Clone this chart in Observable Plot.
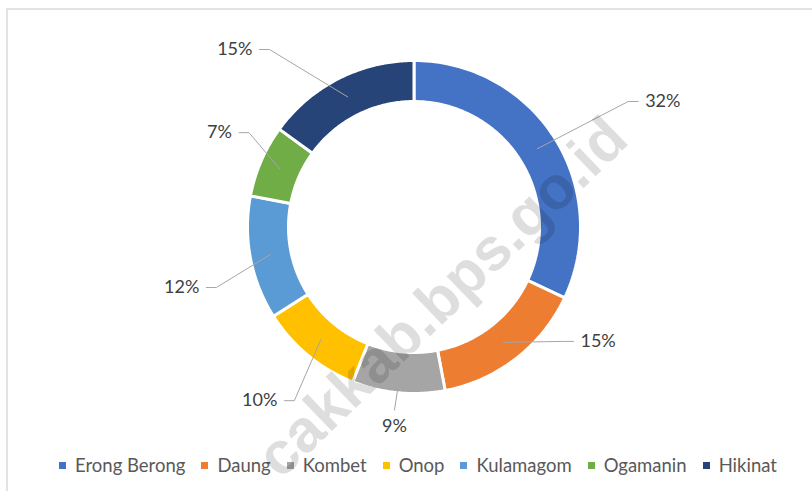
<!DOCTYPE html>
<html>
<head>
<meta charset="utf-8">
<script src="https://cdn.jsdelivr.net/npm/d3@7"></script>
<script src="https://cdn.jsdelivr.net/npm/@observablehq/plot@0.6"></script>
<style>
  html, body { margin: 0; padding: 0; background: #fff; }
  body { width: 812px; height: 491px; position: relative; overflow: hidden; font-family: Lato, "Open Sans", sans-serif; }
  #frame { position: absolute; left: 6px; top: 8px; width: 820px; height: 500px;
           border-left: 2px solid #e3e3e3; border-top: 2px solid #e3e3e3; pointer-events: none; }
  #chart svg { display: block; }
  #legend { display: flex; justify-content: center; align-items: center; height: 40px;
            padding-left: 24px; box-sizing: border-box; width: 812px;
            font-size: 18.5px; color: #595959; white-space: nowrap; }
  #legend .item { display: flex; align-items: center; margin: 0 8px; }
  #legend .sw { width: 7px; height: 7px; margin-right: 9px; }
  #watermark { position: absolute; left: 442px; top: 297px; width: 0; height: 0; pointer-events: none; }
  #watermark span { position: absolute; left: 0; top: 0; transform: translate(-50%, -50%) rotate(-44deg);
                    font-family: "Liberation Sans", Arial, sans-serif; font-weight: bold; font-size: 60px;
                    line-height: 0.9; color: rgba(0,0,0,0.13); white-space: nowrap; }
</style>
</head>
<body>
<div id="frame"></div>
<div id="chart"></div>
<div id="legend"></div>
<div id="watermark"><span>cakkab.bps.go.id</span></div>
<script>
// ---- data ----
const categories = ["Erong Berong", "Daung", "Kombet", "Onop", "Kulamagom", "Ogamanin", "Hikinat"];
const shares = [32, 15, 9, 10, 12, 7, 15];
const colors = ["#4472C4", "#ED7D31", "#A5A5A5", "#FFC000", "#5B9BD5", "#70AD47", "#264478"];
// label placement (polar: degrees clockwise from top, distance from centre) and anchor side
const labelAngle = [61.5, 124.5, 185.6, 218.2, 254.25, 297.4, 317.7];
const labelDist = [263, 202, 200, 221, 223, 205, 240];
const labelSide = ["start", "start", "middle", "end", "end", "end", "end"];

// ---- geometry ----
const W = 812, H = 445;
const cx = 413.5, cy = 226.5;
const Rout = 166.5, Rin = 125.5, Rmid = 146;

const rows = categories.map((name, i) => ({name, share: shares[i], i}));
const arcs = d3.pie().sort(null).value(d => d.share)(rows);

const polar = (a, r) => ({x: r * Math.sin(a), y: r * Math.cos(a)});

const slicePts = [];
for (const a of arcs) {
  const n = 80;
  for (let k = 0; k <= n; k++) {
    const t = a.startAngle + (a.endAngle - a.startAngle) * k / n;
    slicePts.push({name: a.data.name, ...polar(t, Rout)});
  }
  for (let k = n; k >= 0; k--) {
    const t = a.startAngle + (a.endAngle - a.startAngle) * k / n;
    slicePts.push({name: a.data.name, ...polar(t, Rin)});
  }
}

const labels = [];
const leaders = [];
arcs.forEach((a, i) => {
  const mid = (a.startAngle + a.endAngle) / 2;
  const lp = polar(labelAngle[i] * Math.PI / 180, labelDist[i]);
  const side = labelSide[i];
  labels.push({name: a.data.name, text: `${a.data.share}%`, side, ...lp});
  const anchor = polar(mid, Rmid);
  leaders.push({name: a.data.name, ...anchor});
  if (side === "middle") {
    leaders.push({name: a.data.name, x: lp.x, y: lp.y + 16});
  } else {
    const s = side === "start" ? -1 : 1;
    leaders.push({name: a.data.name, x: lp.x + s * 17, y: lp.y});
    leaders.push({name: a.data.name, x: lp.x + s * 7, y: lp.y});
  }
});

const textOpts = {x: "x", y: "y", text: "text", fill: "#404040", fontSize: 18, fontFamily: "Lato, 'Open Sans', sans-serif"};

const plot = Plot.plot({
  width: W, height: H, margin: 0,
  x: {domain: [-cx, W - cx], axis: null},
  y: {domain: [-(H - cy), cy], axis: null},
  color: {domain: categories, range: colors},
  marks: [
    Plot.line(slicePts, {x: "x", y: "y", z: "name", fill: "name", stroke: "white", strokeWidth: 3, curve: "linear-closed"}),
    Plot.line(leaders, {x: "x", y: "y", z: "name", stroke: "#a6a6a6", strokeWidth: 1}),
    Plot.text(labels.filter(d => d.side === "start"), {...textOpts, textAnchor: "start"}),
    Plot.text(labels.filter(d => d.side === "end"), {...textOpts, textAnchor: "end"}),
    Plot.text(labels.filter(d => d.side === "middle"), {...textOpts, textAnchor: "middle"})
  ]
});
document.getElementById("chart").appendChild(plot);

// ---- legend ----
const legend = d3.select("#legend");
categories.forEach((c, i) => {
  const item = legend.append("div").attr("class", "item");
  item.append("div").attr("class", "sw").style("background", colors[i]);
  item.append("span").text(c);
});
</script>
</body>
</html>
